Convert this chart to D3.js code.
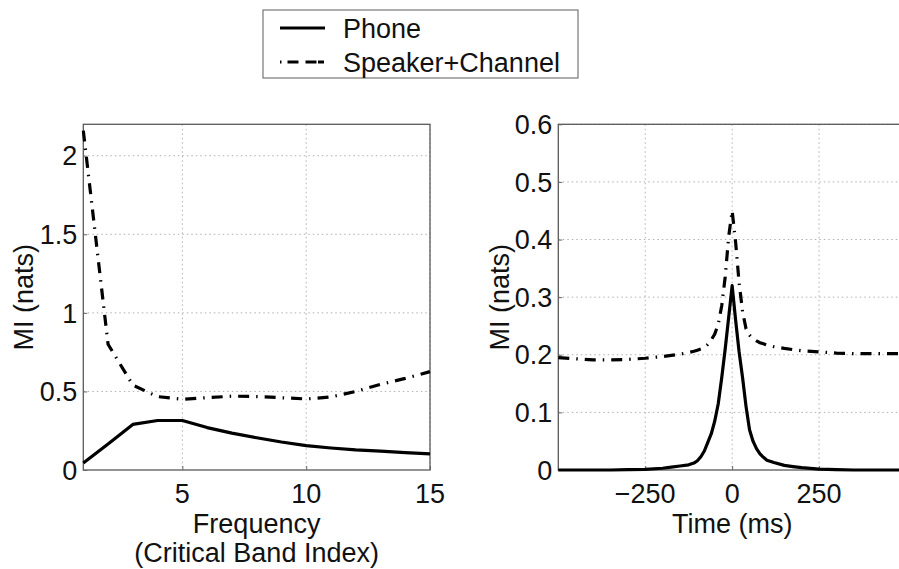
<!DOCTYPE html>
<html><head><meta charset="utf-8">
<script src="https://cdn.jsdelivr.net/npm/d3@7"></script>
<style>
html,body{margin:0;padding:0;background:#fff;}
svg{display:block;font-family:"Liberation Sans",Arial,Helvetica,sans-serif;}
</style></head>
<body>
<script>
// ---- data ----
const bands = [1,2,3,4,5,6,7,8,9,10,11,12,13,14,15];
const phoneFreq   = [0.045,0.165,0.29,0.315,0.315,0.27,0.235,0.205,0.178,0.155,0.14,0.128,0.12,0.11,0.102];
const speakerFreq = [2.16,0.80,0.54,0.467,0.45,0.46,0.47,0.467,0.46,0.452,0.465,0.50,0.545,0.583,0.626];

const times = [-500,-450,-400,-350,-300,-250,-200,-175,-150,-125,-110,-100,-90,-80,-70,-60,-50,-40,-30,-20,-10,0,10,20,30,40,50,60,70,80,90,100,120,150,175,200,250,300,350,400,450,500];
const phoneTime   = [0,0,0,0,0.0005,0.001,0.003,0.005,0.007,0.009,0.012,0.016,0.023,0.033,0.048,0.063,0.085,0.115,0.16,0.21,0.265,0.32,0.26,0.205,0.16,0.11,0.07,0.05,0.037,0.028,0.022,0.017,0.013,0.008,0.006,0.004,0.0015,0.0005,0,0,0,0];
const speakerTime = [0.195,0.193,0.191,0.191,0.192,0.194,0.197,0.199,0.201,0.204,0.206,0.208,0.21,0.213,0.218,0.226,0.236,0.253,0.285,0.335,0.405,0.45,0.395,0.325,0.275,0.245,0.234,0.228,0.224,0.221,0.219,0.217,0.214,0.211,0.209,0.207,0.205,0.203,0.202,0.202,0.202,0.202];

const freqTicks = [5,10,15];
const freqYTicks = [0,0.5,1,1.5,2];
const freqYLabels = ["0","0.5","1","1.5","2"];
const timeTicks = [-250,0,250];
const timeTickLabels = ["\u2212250","0","250"];
const timeYTicks = [0,0.1,0.2,0.3,0.4,0.5,0.6];
const timeYLabels = ["0","0.1","0.2","0.3","0.4","0.5","0.6"];
const seriesNames = ["Phone","Speaker+Channel"];

// ---- drawing ----
const W = 899, H = 569;
const svg = d3.select("body").append("svg").attr("width", W).attr("height", H);
const FS = 27;
const LW = 3.2;
const DASHDOT = "11 7 1.5 7";

function panel(opt) {
  const x = d3.scaleLinear().domain(opt.xDomain).range([opt.left, opt.right]);
  const y = d3.scaleLinear().domain(opt.yDomain).range([opt.bottom, opt.top]);
  const g = svg.append("g");
  // grid
  g.selectAll(".gx").data(opt.xTicks).enter().append("line")
    .attr("x1", d => x(d)).attr("x2", d => x(d))
    .attr("y1", opt.top).attr("y2", opt.bottom)
    .attr("stroke", "#b0b0b0").attr("stroke-width", 1).attr("stroke-dasharray", "1.5 3");
  g.selectAll(".gy").data(opt.yTicks.filter(v => v > opt.yDomain[0])).enter().append("line")
    .attr("x1", opt.left).attr("x2", opt.right)
    .attr("y1", d => y(d)).attr("y2", d => y(d))
    .attr("stroke", "#b0b0b0").attr("stroke-width", 1).attr("stroke-dasharray", "1.5 3");
  // frame
  g.append("rect").attr("x", opt.left).attr("y", opt.top)
    .attr("width", opt.right - opt.left).attr("height", opt.bottom - opt.top)
    .attr("fill", "none").attr("stroke", "#5a5a5a").attr("stroke-width", 1.3);
  // ticks (inside)
  const xa = d3.axisBottom(x).tickValues(opt.xTicks).tickSize(-4).tickFormat("");
  g.append("g").attr("transform", `translate(0,${opt.bottom})`).call(xa)
    .call(s => { s.select(".domain").remove(); s.selectAll("line").attr("stroke", "#666"); });
  const ya = d3.axisLeft(y).tickValues(opt.yTicks).tickSize(-4).tickFormat("");
  g.append("g").attr("transform", `translate(${opt.left},0)`).call(ya)
    .call(s => { s.select(".domain").remove(); s.selectAll("line").attr("stroke", "#666"); });
  // tick labels
  g.selectAll(".xl").data(opt.xTicks).enter().append("text")
    .attr("x", d => x(d)).attr("y", opt.bottom + 33)
    .attr("text-anchor", "middle").attr("font-size", FS).attr("fill", "#111")
    .text((d, i) => opt.xLabels[i]);
  g.selectAll(".yl").data(opt.yTicks).enter().append("text")
    .attr("x", opt.left - 6).attr("y", d => y(d)).attr("dy", "0.36em")
    .attr("text-anchor", "end").attr("font-size", FS).attr("fill", "#111")
    .text((d, i) => opt.yLabels[i]);
  // y label
  g.append("text").attr("transform", `translate(${opt.yLabelX},${(opt.top + opt.bottom) / 2}) rotate(-90)`)
    .attr("text-anchor", "middle").attr("font-size", FS).attr("fill", "#111").text("MI (nats)");
  // x label lines
  opt.xTitle.forEach((t, i) => {
    g.append("text").attr("x", (opt.left + opt.right) / 2).attr("y", opt.bottom + 63 + i * 29)
      .attr("text-anchor", "middle").attr("font-size", FS).attr("fill", "#111").text(t);
  });
  // series
  const line = d3.line().x(d => x(d[0])).y(d => y(d[1]));
  const cp = "clip" + opt.id;
  svg.append("clipPath").attr("id", cp).append("rect")
    .attr("x", opt.left - 2).attr("y", opt.top - 4).attr("width", opt.right - opt.left + 4).attr("height", opt.bottom - opt.top + 6);
  g.append("path").datum(opt.xs.map((v, i) => [v, opt.s2[i]]))
    .attr("d", line).attr("fill", "none").attr("stroke", "#000").attr("stroke-width", LW)
    .attr("stroke-dasharray", DASHDOT).attr("clip-path", `url(#${cp})`);
  g.append("path").datum(opt.xs.map((v, i) => [v, opt.s1[i]]))
    .attr("d", line).attr("fill", "none").attr("stroke", "#000").attr("stroke-width", LW)
    .attr("stroke-linejoin", "round").attr("clip-path", `url(#${cp})`);
}

panel({
  id: "a", left: 83.3, right: 430, top: 124.3, bottom: 470,
  xDomain: [1, 15], yDomain: [0, 2.2],
  xTicks: freqTicks, xLabels: freqTicks.map(String),
  yTicks: freqYTicks, yLabels: freqYLabels,
  yLabelX: 33, xTitle: ["Frequency", "(Critical Band Index)"],
  xs: bands, s1: phoneFreq, s2: speakerFreq
});

panel({
  id: "b", left: 558.3, right: 906, top: 124.3, bottom: 470,
  xDomain: [-500, 500], yDomain: [0, 0.6],
  xTicks: timeTicks, xLabels: timeTickLabels,
  yTicks: timeYTicks, yLabels: timeYLabels,
  yLabelX: 509, xTitle: ["Time (ms)"],
  xs: times, s1: phoneTime, s2: speakerTime
});

// legend
const lg = svg.append("g");
lg.append("rect").attr("x", 263).attr("y", 10).attr("width", 315).attr("height", 68)
  .attr("fill", "#fff").attr("stroke", "#777").attr("stroke-width", 1.2);
seriesNames.forEach((name, i) => {
  const yy = 28 + i * 34;
  lg.append("line").attr("x1", 280).attr("x2", 325).attr("y1", yy).attr("y2", yy)
    .attr("stroke", "#000").attr("stroke-width", LW)
    .attr("stroke-dasharray", i === 0 ? null : "1.5 6 11 7 11");
  lg.append("text").attr("x", 343).attr("y", yy + 10).attr("font-size", FS).attr("fill", "#111").text(name);
});
</script>
</body></html>
